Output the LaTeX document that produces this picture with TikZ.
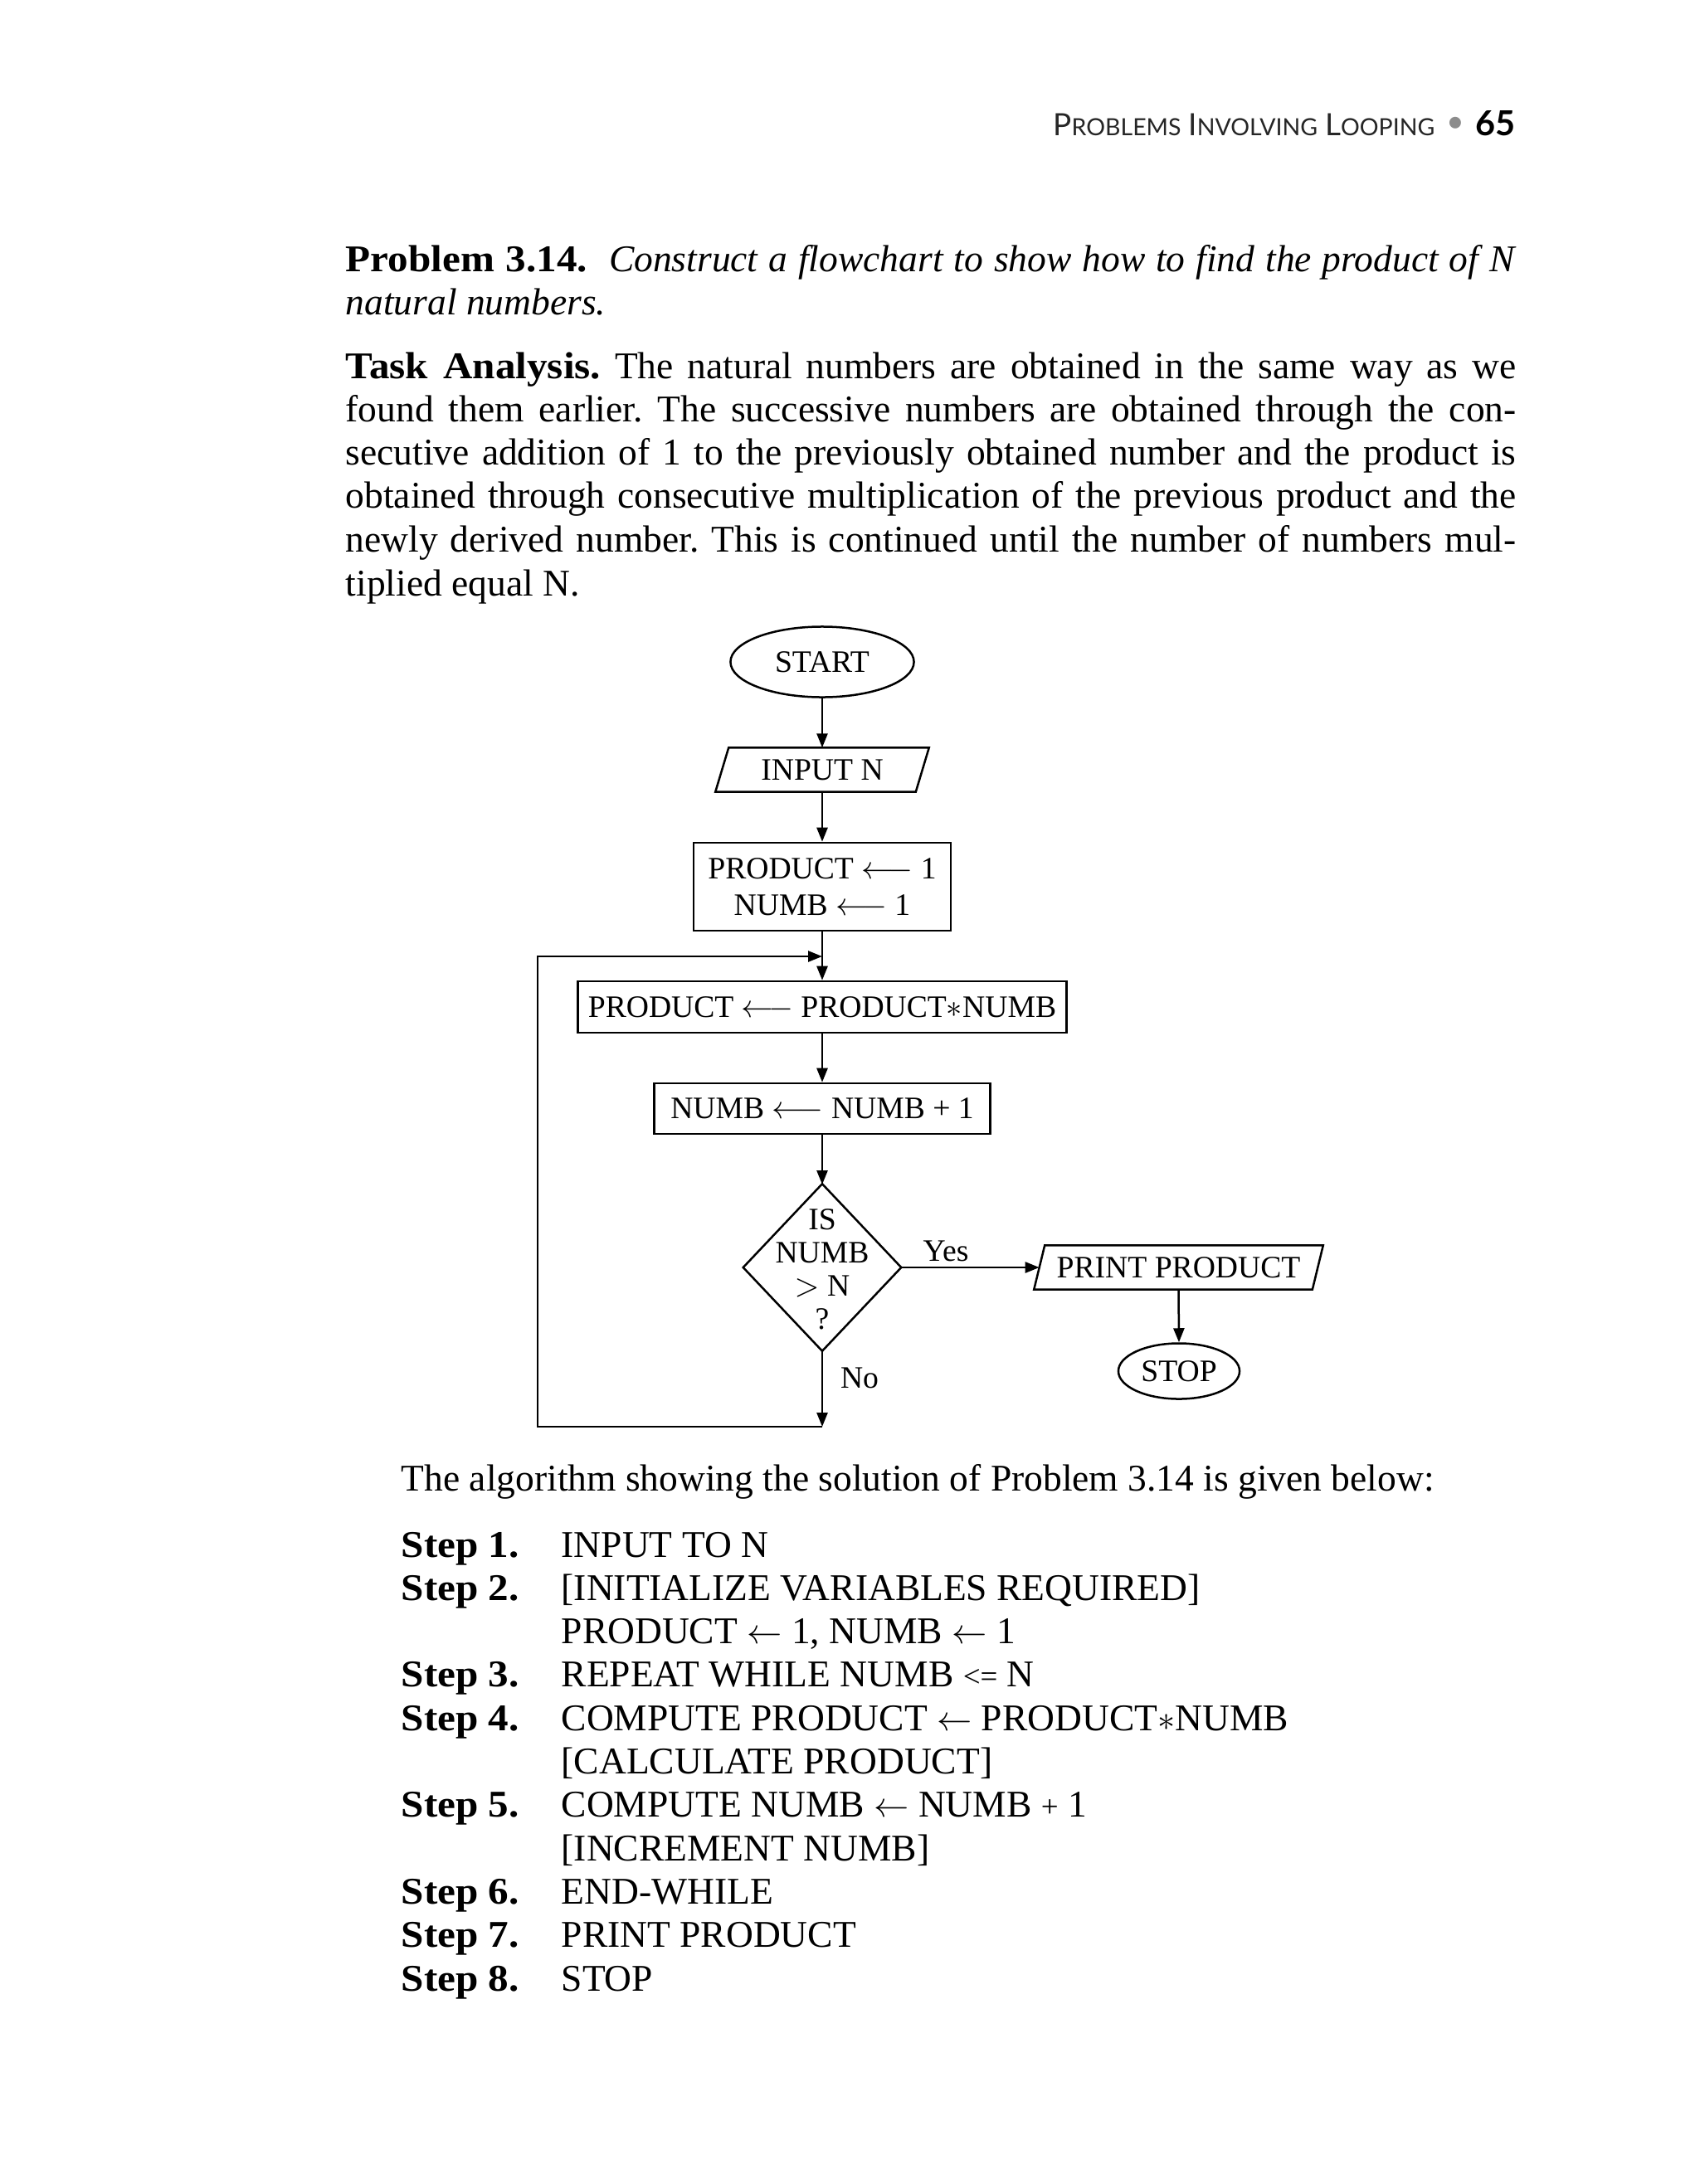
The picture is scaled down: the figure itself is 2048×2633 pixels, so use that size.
\documentclass[tikz,border=0pt]{standalone}
\usepackage{fontspec}
\setmainfont{Liberation Serif}[BoldFeatures={FakeStretch=1.08}]
\newfontfamily\hdrfont{Lato}
\usetikzlibrary{arrows.meta,shapes.geometric}
\frenchspacing
\newcommand\myBody{\fontsize{12.94}{14.9}\selectfont}
\newcommand\myBox{\fontsize{10.7}{12.5}\selectfont}
\newcommand\jline[1]{\makebox[14.10cm][s]{#1}}
\newcommand\hsc[2]{{\fontsize{10.5}{12}\selectfont #1}{\fontsize{8.1}{10}\selectfont #2}}
\tikzset{
  ln/.style={line width=0.025cm},
  arr/.style={ln,-{Triangle[width=0.13cm,length=0.17cm]}},
  bodytxt/.style={inner sep=0,anchor=base west,font=\myBody},
  boxn/.style={draw,ln,inner sep=0,font=\myBox,align=center},
  plain/.style={inner sep=0,font=\myBox,align=center},
  steplbl/.style={inner sep=0,anchor=base west,font=\myBody\bfseries},
}
\begin{document}
\begin{tikzpicture}[x=0.01cm,y=-0.01cm]
\fill[white] (0,0) rectangle (2048,2633);
\useasboundingbox (0,0) rectangle (2048,2633);

% header
\node[inner sep=0,anchor=base east,font=\hdrfont,text=black!85] (hd) at (1730,163)
  {\hsc{P}{ROBLEMS} \hsc{I}{NVOLVING} \hsc{L}{OOPING}};
\node[inner sep=0,font=\hdrfont\fontsize{10.7}{12}\selectfont,text=black!45] (hb) at (1754,150) {\textbullet};
\node[inner sep=0,anchor=base east,font=\hdrfont\bfseries\fontsize{11.8}{12}\selectfont] (pg) at (1827,163) {65};

% problem statement
\node[bodytxt] (p1) at (416,327) {\jline{\textbf{Problem 3.14.}\ \ \textit{Construct a flowchart to show how to find the product of N}}};
\node[bodytxt] (p2) at (416,379) {\textit{natural numbers.}};

% task analysis
\node[bodytxt] (a1) at (416,456) {\jline{\textbf{Task Analysis.} The natural numbers are obtained in the same way as we}};
\node[bodytxt] (a2) at (416,508) {\jline{found them earlier. The successive numbers are obtained through the con-}};
\node[bodytxt] (a3) at (416,560) {\jline{secutive addition of 1 to the previously obtained number and the product is}};
\node[bodytxt] (a4) at (416,612) {\jline{obtained through consecutive multiplication of the previous product and the}};
\node[bodytxt] (a5) at (416,665) {\jline{newly derived number. This is continued until the number of numbers mul-}};
\node[bodytxt] (a6) at (416,718) {tiplied equal N.};

% flowchart
\node[ellipse,draw,ln,minimum width=2.21cm,minimum height=0.85cm,inner sep=0,font=\myBox] (start) at (991,798) {START};
\node[plain,minimum width=2.40cm,minimum height=0.52cm] (inp) at (991,928) {INPUT N};
\draw[ln] ([xshift=0.08cm]inp.north west) -- ([xshift=0.08cm]inp.north east)
  -- ([xshift=-0.08cm]inp.south east) -- ([xshift=-0.08cm]inp.south west) -- cycle;
\node[boxn,minimum width=3.10cm,minimum height=1.06cm] (init) at (991,1069)
  {PRODUCT $\longleftarrow$ 1\\NUMB $\longleftarrow$ 1};
\node[boxn,minimum width=5.89cm,minimum height=0.62cm] (prod) at (991,1214)
  {PRODUCT $\longleftarrow$ PRODUCT$\ast$NUMB};
\node[boxn,minimum width=4.05cm,minimum height=0.61cm] (numb) at (991,1336.5)
  {NUMB $\longleftarrow$ NUMB + 1};
\node[plain,minimum width=1.89cm,minimum height=2.00cm,font=\fontsize{10.7}{11.4}\selectfont] (dec) at (991,1530)
  {IS\\NUMB\\$>$ N\\?};
\draw[ln] ([yshift=0.02cm]dec.north) -- ([yshift=0.02cm]dec.east) -- ([yshift=0.02cm]dec.south) -- ([yshift=0.02cm]dec.west) -- cycle;
\node[plain,minimum width=3.34cm,minimum height=0.52cm] (prt) at (1420.5,1528) {PRINT PRODUCT};
\draw[ln] ([xshift=0.065cm]prt.north west) -- ([xshift=0.065cm]prt.north east)
  -- ([xshift=-0.065cm]prt.south east) -- ([xshift=-0.065cm]prt.south west) -- cycle;
\node[ellipse,draw,ln,minimum width=1.46cm,minimum height=0.67cm,inner sep=0,font=\myBox] (stop) at (1421,1653) {STOP};

\coordinate (lj) at (991,1153);
\coordinate (nend) at (991,1720);
\coordinate (lc) at (648,1720);
\coordinate (dtop) at (991,1428);
\coordinate (dbot) at (991,1628);
\coordinate (dright) at (1085.5,1528);

\draw[arr] (start.south) -- (inp.north);
\draw[arr] (inp.south) -- (init.north);
\draw[arr] (init.south) -- (prod.north);
\draw[arr] (prod.south) -- (numb.north);
\draw[arr] (numb.south) -- (dtop);
\draw[arr] (dright) -- (prt.west);
\draw[arr] (prt.south) -- (stop.north);
\draw[arr] (dbot) -- (nend);
\draw[arr] (nend) -- (lc) |- (lj);

\node[inner sep=0,anchor=base,font=\myBox] (yes) at (1140,1520) {Yes};
\node[inner sep=0,anchor=base,font=\myBox] (no) at (1036,1673) {No};

% algorithm
\node[bodytxt] (alg) at (483,1797) {The algorithm showing the solution of Problem 3.14 is given below:};

\node[steplbl] (s1) at (483,1877) {Step 1.};
\node[bodytxt] (t1) at (676,1877) {INPUT TO N};
\node[steplbl] (s2) at (483,1929.3) {Step 2.};
\node[bodytxt] (t2) at (676,1929.3) {[INITIALIZE VARIABLES REQUIRED]};
\node[bodytxt] (t2b) at (676,1981.6) {PRODUCT $\leftarrow$ 1, NUMB $\leftarrow$ 1};
\node[steplbl] (s3) at (483,2033.9) {Step 3.};
\node[bodytxt] (t3) at (676,2033.9) {REPEAT WHILE NUMB {\fontsize{10.5}{12}\selectfont<=} N};
\node[steplbl] (s4) at (483,2086.2) {Step 4.};
\node[bodytxt] (t4) at (676,2086.2) {COMPUTE PRODUCT $\leftarrow$ PRODUCT$\ast$NUMB};
\node[bodytxt] (t4b) at (676,2138.5) {[CALCULATE PRODUCT]};
\node[steplbl] (s5) at (483,2190.8) {Step 5.};
\node[bodytxt] (t5) at (676,2190.8) {COMPUTE NUMB $\leftarrow$ NUMB {\fontsize{10.5}{12}\selectfont+} 1};
\node[bodytxt] (t5b) at (676,2243.1) {[INCREMENT NUMB]};
\node[steplbl] (s6) at (483,2295.4) {Step 6.};
\node[bodytxt] (t6) at (676,2295.4) {END-WHILE};
\node[steplbl] (s7) at (483,2347.7) {Step 7.};
\node[bodytxt] (t7) at (676,2347.7) {PRINT PRODUCT};
\node[steplbl] (s8) at (483,2400) {Step 8.};
\node[bodytxt] (t8) at (676,2400) {STOP};
\end{tikzpicture}
\end{document}
